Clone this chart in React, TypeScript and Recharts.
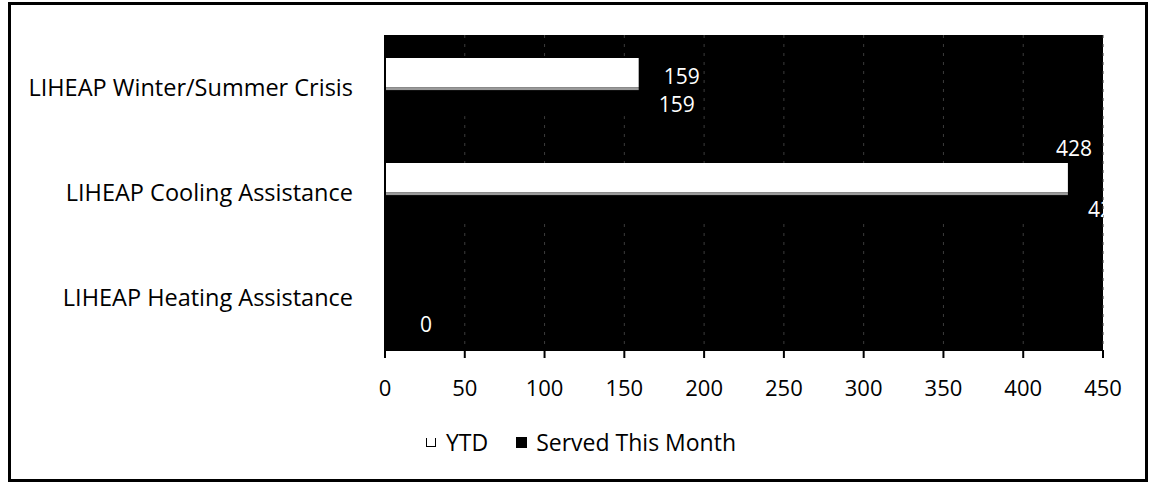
import React from 'react';
import { BarChart, Bar, XAxis, YAxis, CartesianGrid, Legend, LabelList } from 'recharts';

const categories = ['LIHEAP Winter/Summer Crisis', 'LIHEAP Cooling Assistance', 'LIHEAP Heating Assistance'];
const ytdValues = [159, 428, 0];
const servedValues = [159, 428, 0];
const xTicks = [0, 50, 100, 150, 200, 250, 300, 350, 400, 450];
const seriesNames = ['YTD', 'Served This Month'];

const data = categories.map((c, i) => ({ name: c, ytd: ytdValues[i], served: servedValues[i] }));

const W = 1150;
const H = 483;
const MARGIN = { top: 35, right: 47, bottom: 0, left: 0 };
const YAXIS_W = 385;
const XAXIS_H = 133;
const PLOT_RIGHT = W - MARGIN.right;
const FONT = '"Open Sans", Lato, sans-serif';
const FS = 22;

const YtdLabel = (props: any) => {
  const { x, y, width, height, value } = props;
  if (!value) return null;
  const end = Number(x) + Number(width);
  const text = String(value);
  const approxW = text.length * 12.6;
  if (end + 25 + approxW > PLOT_RIGHT) {
    return (
      <text x={end + 6} y={Number(y) - 15} textAnchor="middle" dominantBaseline="central" fill="#fff" fontFamily={FONT} fontSize={FS - 1}>
        {text}
      </text>
    );
  }
  return (
    <text x={end + 25} y={Number(y) + Number(height) / 2 + 3} dominantBaseline="central" fill="#fff" fontFamily={FONT} fontSize={FS - 1}>
      {text}
    </text>
  );
};

const ServedLabel = (props: any) => {
  const { x, y, width, height, value } = props;
  const end = Number(x) + Number(width);
  const zero = !value;
  return (
    <text
      x={end + (zero ? 35 : 20)}
      y={Number(y) + Number(height) / 2 + (zero ? 12 : 2)}
      dominantBaseline="central"
      fill="#fff"
      fontFamily={FONT}
      fontSize={FS - 1}
      clipPath="url(#plotClip)"
    >
      {String(value)}
    </text>
  );
};

const ServedShape = (props: any) => {
  const { x, y, width, height } = props;
  if (!width || width <= 0) return null;
  return (
    <g>
      <rect x={x} y={y} width={width} height={height} fill="#000" />
      <rect x={x} y={y} width={width} height={3} fill="#9a9a9a" />
    </g>
  );
};

const renderLegend = () => (
  <div style={{ display: 'flex', justifyContent: 'center', alignItems: 'center', fontFamily: FONT, fontSize: 23, color: '#000', lineHeight: '26px', paddingLeft: 12 }}>
    <span style={{ display: 'inline-flex', alignItems: 'center', marginRight: 28 }}>
      <span style={{ display: 'inline-block', width: 8, height: 8, border: '1.5px solid #000', borderTop: 'none', background: '#fff', marginRight: 10 }} />
      {seriesNames[0]}
    </span>
    <span style={{ display: 'inline-flex', alignItems: 'center' }}>
      <span style={{ display: 'inline-block', width: 11, height: 11, background: '#000', marginRight: 9 }} />
      {seriesNames[1]}
    </span>
  </div>
);

export default function App() {
  return (
    <div style={{ position: 'absolute', left: 0, top: 0, width: W, height: H, background: '#fff' }}>
      <div style={{ position: 'absolute', left: 8, top: 2, width: 1140, height: 480, border: '3px solid #000', boxSizing: 'border-box' }} />
      <div style={{ position: 'absolute', left: 0, top: 0 }}>
        <BarChart width={W} height={H} data={data} layout="vertical" margin={MARGIN} barCategoryGap="22%" barGap={0}>
          <defs>
            <clipPath id="plotClip">
              <rect x={YAXIS_W} y={MARGIN.top} width={PLOT_RIGHT - YAXIS_W} height={H - MARGIN.top - XAXIS_H} />
            </clipPath>
          </defs>
          <CartesianGrid horizontal={false} vertical={true} fill="#000" stroke="#3c3c3c" strokeDasharray="3 6" />
          <XAxis
            type="number"
            domain={[0, 450]}
            ticks={xTicks}
            height={XAXIS_H}
            axisLine={{ stroke: '#000', strokeWidth: 2 }}
            tickLine={{ stroke: '#000', strokeWidth: 2 }}
            tickSize={8}
            tickMargin={22}
            tick={{ fill: '#000', fontFamily: FONT, fontSize: FS }}
            interval={0}
          />
          <YAxis
            type="category"
            dataKey="name"
            width={YAXIS_W}
            axisLine={{ stroke: '#000', strokeWidth: 2 }}
            tickLine={false}
            tickSize={8}
            tickMargin={24}
            tick={{ fill: '#000', fontFamily: FONT, fontSize: 23.5 }}
            interval={0}
          />
          <Legend
            layout="horizontal"
            verticalAlign="middle"
            align="center"
            content={renderLegend}
            wrapperStyle={{ position: 'absolute', top: 429, left: 0, width: W, height: 26 }}
          />
          <Bar dataKey="ytd" name={seriesNames[0]} fill="#fff" isAnimationActive={false}>
            <LabelList dataKey="ytd" content={YtdLabel} />
          </Bar>
          <Bar dataKey="served" name={seriesNames[1]} fill="#000" shape={ServedShape} isAnimationActive={false}>
            <LabelList dataKey="served" content={ServedLabel} />
          </Bar>
        </BarChart>
      </div>
    </div>
  );
}
